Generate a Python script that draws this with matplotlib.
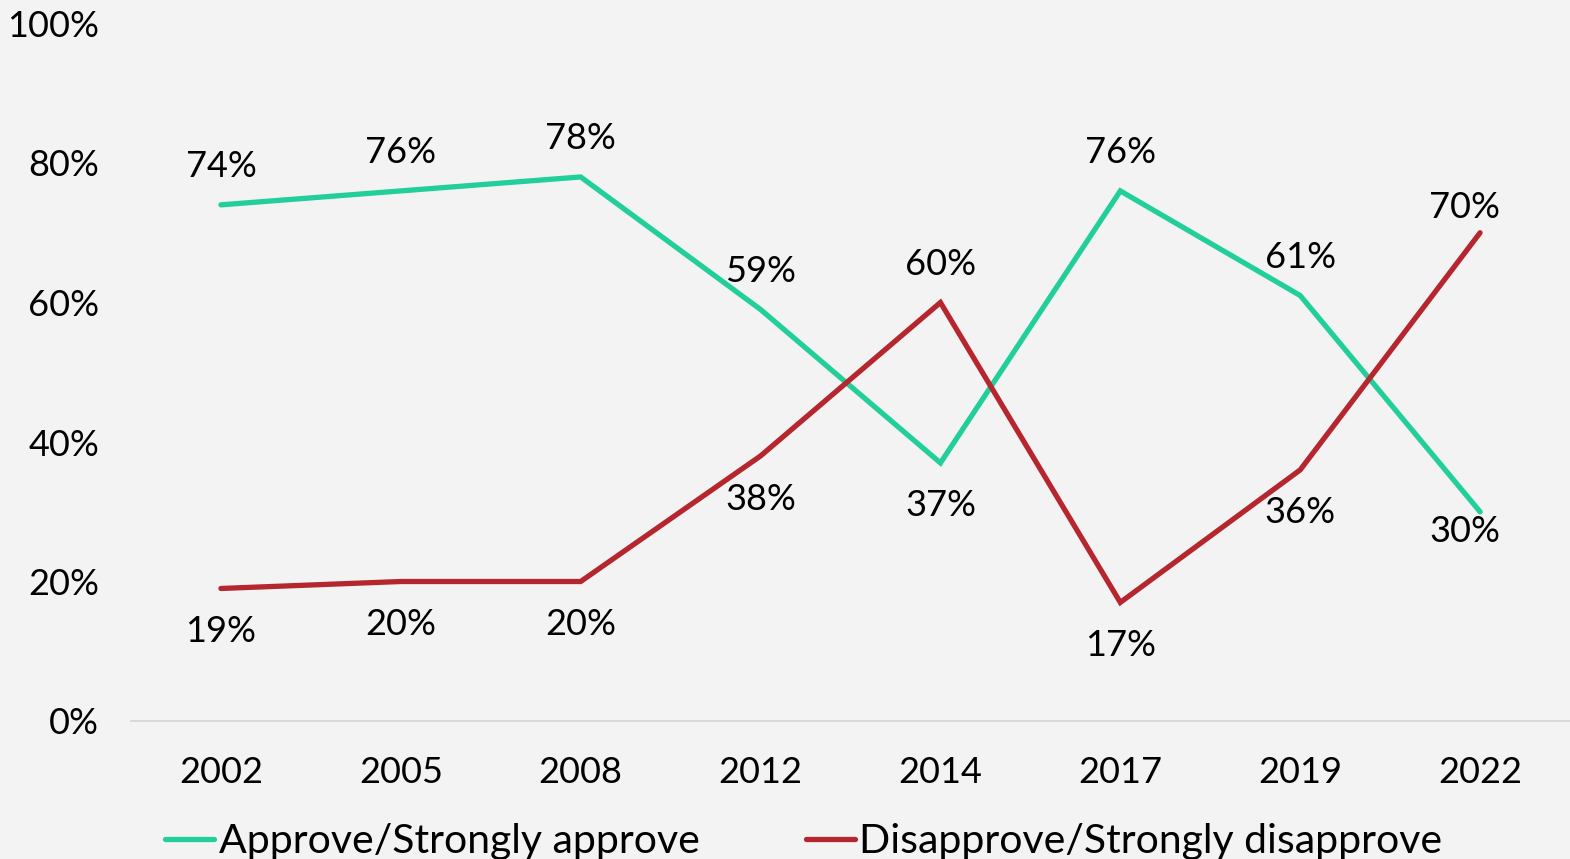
import matplotlib
matplotlib.use('Agg')
import matplotlib.pyplot as plt

plt.rcParams['font.family'] = ['Lato', 'DejaVu Sans']

years = ["2002", "2005", "2008", "2012", "2014", "2017", "2019", "2022"]
approve = [74, 76, 78, 59, 37, 76, 61, 30]
disapprove = [19, 20, 20, 38, 60, 17, 36, 70]

# +1 = label above point, -1 = below
approve_side = [1, 1, 1, 1, -1, 1, 1, -1]
disapprove_side = [-1, -1, -1, -1, 1, -1, -1, 1]

TEAL = "#22CF9B"
RED = "#B5262E"
BG = "#F3F3F3"

fig = plt.figure(figsize=(15.7, 8.59), dpi=100, facecolor=BG)
ax = fig.add_axes([131 / 1570, 1 - 721 / 859, 1 - 131 / 1570, (721 - 23.5) / 859])
ax.set_facecolor(BG)

x = range(len(years))
ax.plot(x, [v / 100 for v in approve], color=TEAL, lw=3.8,
        solid_capstyle="round", solid_joinstyle="miter",
        label="Approve/Strongly approve")
ax.plot(x, [v / 100 for v in disapprove], color=RED, lw=3.8,
        solid_capstyle="round", solid_joinstyle="miter",
        label="Disapprove/Strongly disapprove")

last = len(years) - 1
for series, sides in ((approve, approve_side), (disapprove, disapprove_side)):
    for i, (v, s) in enumerate(zip(series, sides)):
        dy = 27.5 if s > 0 else -31
        dx = 0
        if i == last:
            # the end labels are pulled in to stay inside the plot
            dy = 18 if s > 0 else -14
            dx = -11
        ax.annotate(f"{v}%", (i, v / 100), xytext=(dx, dy),
                    textcoords="offset points", ha="center", va="center",
                    fontsize=26, color="black")

ax.set_xlim(-0.5, len(years) - 0.5)
ax.set_ylim(0, 1)
ax.set_xticks(list(x))
ax.set_xticklabels(years)
ax.set_yticks([0, 0.2, 0.4, 0.6, 0.8, 1.0])
ax.set_yticklabels(["0%", "20%", "40%", "60%", "80%", "100%"])
ax.tick_params(axis="both", length=0, labelsize=26, colors="black")
ax.tick_params(axis="x", pad=25)
ax.tick_params(axis="y", pad=23)

for side in ("top", "right", "left"):
    ax.spines[side].set_visible(False)
ax.spines["bottom"].set_color("#D6D6D6")
ax.spines["bottom"].set_linewidth(1.2)

fig.legend(loc="lower center", bbox_to_anchor=(0.512, -0.044), ncol=2,
           frameon=False, fontsize=29.5, handlelength=1.2, handletextpad=0.1,
           columnspacing=2.6)

plt.savefig("out.png", dpi=100, facecolor=BG)
plt.close()
